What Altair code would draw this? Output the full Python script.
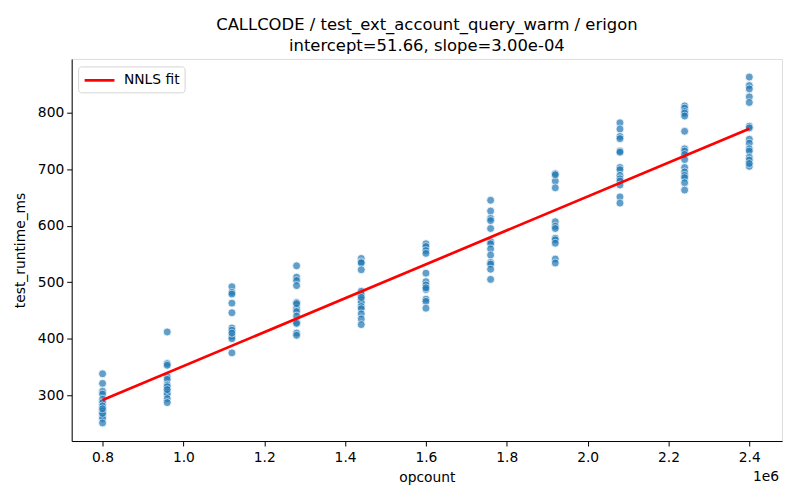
import altair as alt
import pandas as pd

opcounts = [800000, 960000, 1120000, 1280000, 1440000, 1600000, 1760000, 1920000, 2080000, 2240000, 2400000]
runtimes = [
    [338, 321, 307, 302, 293, 287, 281, 272, 264, 259, 251, 268, 276],
    [412, 356, 353, 333, 328, 318, 315, 305, 302, 294, 287, 310],
    [492, 482, 479, 463, 446, 419, 415, 404, 400, 375, 410],
    [529, 509, 503, 494, 464, 454, 448, 440, 429, 427, 410, 406, 462],
    [542, 536, 534, 522, 484, 478, 469, 464, 457, 453, 444, 435, 425, 473],
    [568, 563, 556, 551, 516, 501, 495, 487, 470, 466, 454, 490],
    [645, 626, 613, 609, 595, 572, 568, 559, 548, 535, 532, 523, 505],
    [692, 679, 667, 607, 599, 595, 578, 575, 569, 541, 534, 690],
    [782, 771, 758, 754, 732, 703, 699, 689, 683, 679, 672, 651, 640, 730],
    [812, 808, 802, 799, 794, 767, 736, 732, 726, 717, 703, 695, 689, 685, 676, 663],
    [863, 848, 842, 828, 818, 776, 773, 753, 746, 736, 732, 721, 716, 705, 710],
]
intercept = 51.66
slope = 3.00e-4
fit_label = "NNLS fit"
title_lines = ["CALLCODE / test_ext_account_query_warm / erigon",
               "intercept=51.66, slope=3.00e-04"]
x_ticks = [800000, 1000000, 1200000, 1400000, 1600000, 1800000, 2000000, 2200000, 2400000]
y_ticks = [300, 400, 500, 600, 700, 800]

rows = []
for oc, vals in zip(opcounts, runtimes):
    for v in vals:
        rows.append({"opcount": oc, "test_runtime_ms": v})
pts = pd.DataFrame(rows)

xmin, xmax = min(opcounts), max(opcounts)
fit = pd.DataFrame({
    "opcount": [xmin, xmax],
    "test_runtime_ms": [intercept + slope * xmin, intercept + slope * xmax],
    "label": [fit_label, fit_label],
})

W, H = 714, 384
font = "DejaVu Sans"
fs = 13.9

xscale = alt.Scale(domain=[723600, 2481000], nice=False, zero=False)
yscale = alt.Scale(domain=[219, 895], nice=False, zero=False)

xaxis = alt.Axis(values=x_ticks, labelExpr="format(datum.value/1000000, '.1f')",
                 title="opcount", grid=False, tickSize=5, labelFontSize=fs,
                 titleFontSize=fs, titleFontWeight="normal", labelColor="black",
                 titleColor="black", domainColor="black", tickColor="black",
                 labelPadding=5, titlePadding=6, labelFont=font, titleFont=font)
yaxis = alt.Axis(values=y_ticks, title="test_runtime_ms", grid=False, tickSize=5,
                 labelFontSize=fs, titleFontSize=fs, titleFontWeight="normal",
                 labelColor="black", titleColor="black", domainColor="black",
                 tickColor="black", labelPadding=3, titlePadding=10,
                 labelFont=font, titleFont=font)

points = alt.Chart(pts).mark_circle(
    size=64, color="#1f77b4", opacity=0.7, stroke="white", strokeWidth=0.8
).encode(
    x=alt.X("opcount:Q", scale=xscale, axis=xaxis),
    y=alt.Y("test_runtime_ms:Q", scale=yscale, axis=yaxis),
)

line = alt.Chart(fit).mark_line(strokeWidth=2.7).encode(
    x=alt.X("opcount:Q", scale=xscale),
    y=alt.Y("test_runtime_ms:Q", scale=yscale),
    color=alt.Color("label:N", scale=alt.Scale(range=["red"]),
                    legend=alt.Legend(title=None, orient="none", legendX=6.5, legendY=7.5,
                                      symbolType="M-1,0H3", symbolStrokeWidth=2.7,
                                      symbolSize=225, strokeColor="#d5d5d5",
                                      fillColor="white", padding=5, cornerRadius=3,
                                      labelFontSize=fs, labelFont=font,
                                      labelColor="black", symbolOffset=0,
                                      labelOffset=23)),
)

exp_text = alt.Chart(pd.DataFrame({"t": ["1e6"]})).mark_text(
    fontSize=fs, font=font, color="black", align="right", baseline="middle"
).encode(x=alt.value(W - 3), y=alt.value(H + 36), text="t:N")

chart = alt.layer(points, line, exp_text).properties(
    width=W, height=H,
    title=alt.TitleParams(text=title_lines, fontSize=16.5, font=font, fontWeight="normal",
                          color="black", anchor="middle", offset=4, lineHeight=22),
    autosize=alt.AutoSizeParams(type="none"),
    padding={"left": 64, "top": 50, "right": 10, "bottom": 50},
).configure_view(stroke="black", strokeWidth=1).configure(background="white")

chart.save("out.html", embed_options={"renderer": "svg", "actions": False})
